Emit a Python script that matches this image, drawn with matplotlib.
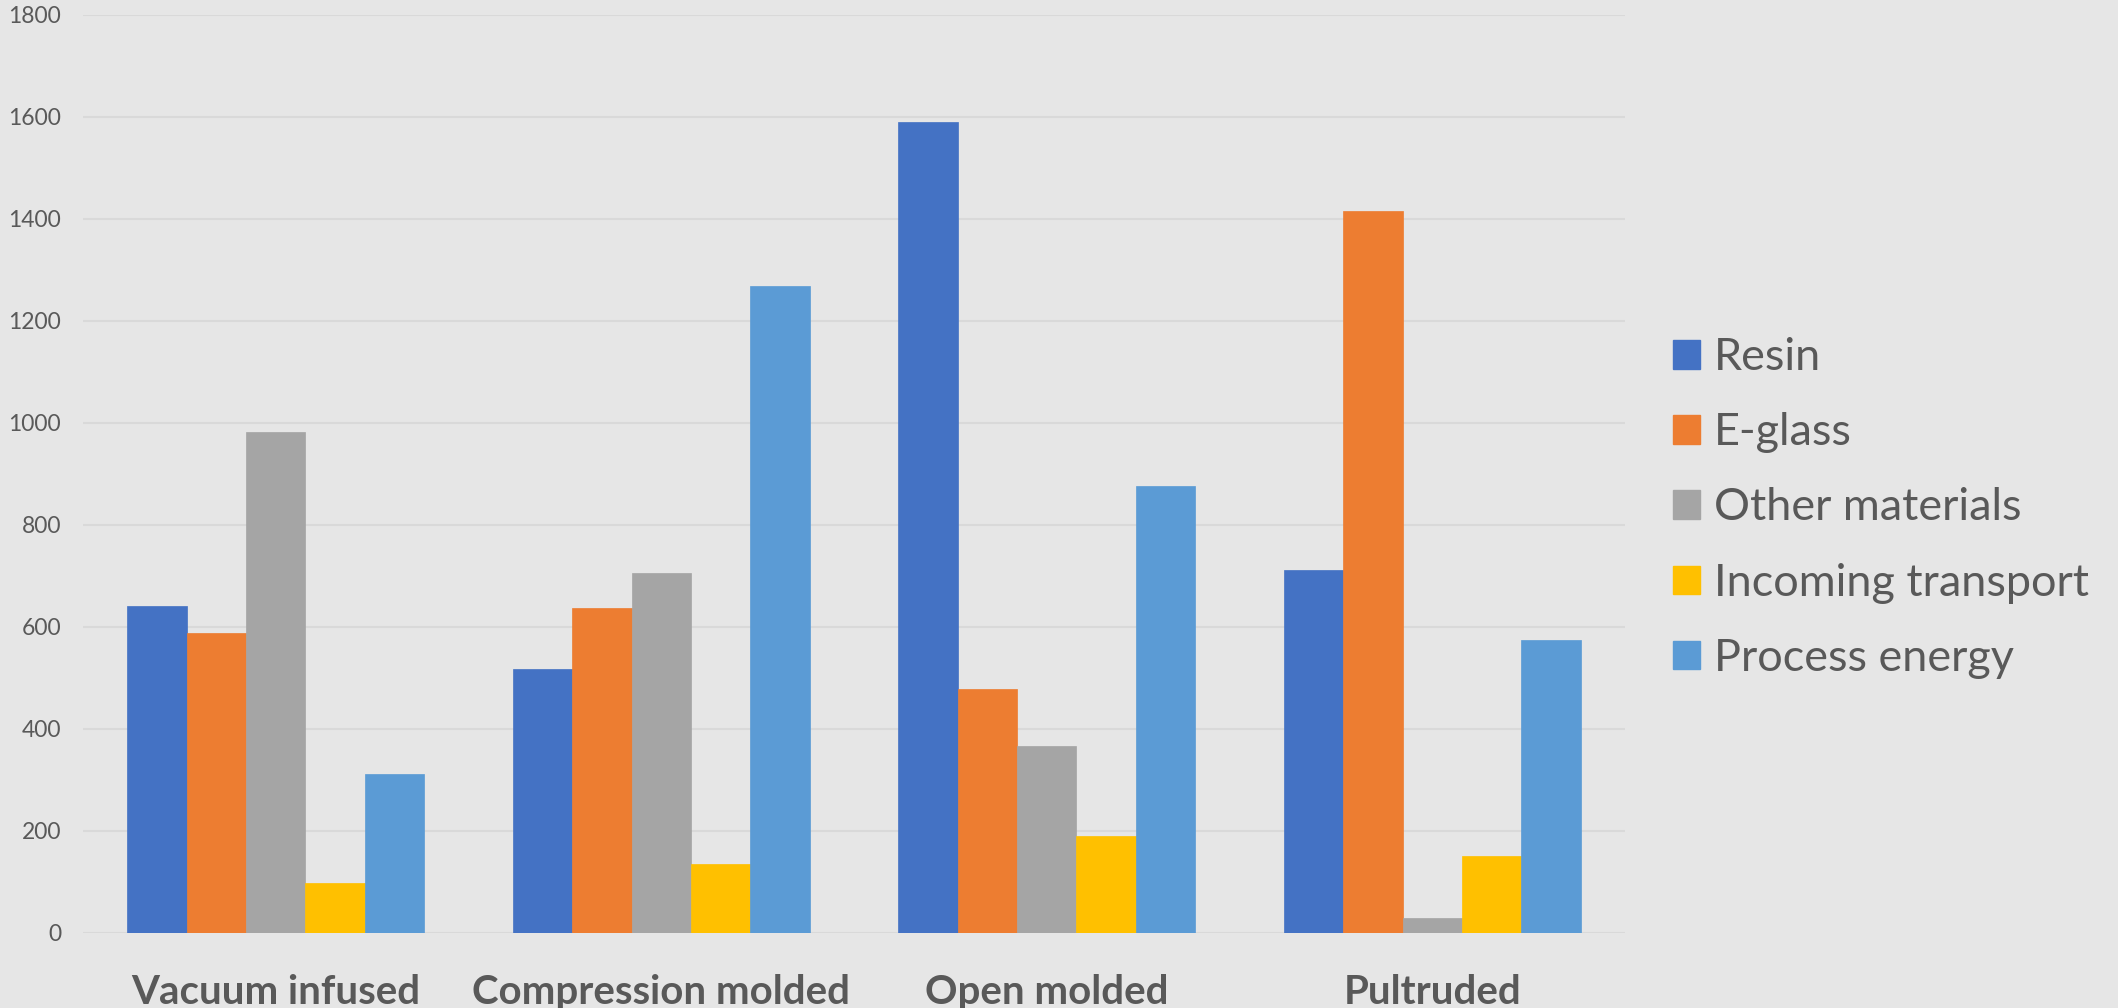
import matplotlib
matplotlib.use("Agg")
import matplotlib.pyplot as plt
from matplotlib.patches import Patch
import numpy as np

categories = ["Vacuum infused", "Compression molded", "Open molded", "Pultruded"]
series_names = ["Resin", "E-glass", "Other materials", "Incoming transport", "Process energy"]
resin = [640, 518, 1590, 711]
e_glass = [587, 637, 478, 1415]
other_materials = [982, 706, 367, 28]
incoming_transport = [98, 135, 190, 150]
process_energy = [311, 1269, 876, 573]
y_ticks = [0, 200, 400, 600, 800, 1000, 1200, 1400, 1600, 1800]

series_values = [resin, e_glass, other_materials, incoming_transport, process_energy]
colors = ["#4472C4", "#ED7D31", "#A5A5A5", "#FFC000", "#5B9BD5"]

BG = "#E6E6E6"
GRID = "#D9D9D9"
TXT = "#595959"
FONT = ["Lato", "DejaVu Sans"]

plt.rcParams["font.family"] = FONT

W, H = 2118, 1008
fig = plt.figure(figsize=(W / 100, H / 100), dpi=100, facecolor=BG)
left, right = 83 / W, 1625 / W
top_px, bot_px = 14.7, 932.7
ax = fig.add_axes([left, 1 - bot_px / H, right - left, (bot_px - top_px) / H])
ax.set_facecolor(BG)

n = len(series_names)
bw = 1 / 6.5
x = np.arange(len(categories))
for i, (vals, c) in enumerate(zip(series_values, colors)):
    offs = (i - (n - 1) / 2) * bw
    ax.bar(x + offs, vals, width=bw, color=c, edgecolor=c, linewidth=0.5, zorder=3)

ax.set_xlim(-0.5, len(categories) - 0.5)
ax.set_ylim(0, 1800)
ax.set_yticks(y_ticks)
ax.set_yticklabels([str(t) for t in y_ticks])
ax.yaxis.grid(True, color=GRID, linewidth=1.5, zorder=0)
ax.set_axisbelow(True)
for s in ax.spines.values():
    s.set_visible(False)
ax.tick_params(axis="y", length=0, pad=15.8, labelsize=16.5, labelcolor=TXT)
ax.tick_params(axis="x", length=0, pad=29.5, labelsize=29, labelcolor=TXT)
ax.set_xticks(x)
ax.set_xticklabels(categories, fontweight="bold")

handles = [Patch(facecolor=c, edgecolor=c) for c in colors]
fig.legend(handles, series_names, loc="center left",
           bbox_to_anchor=(1673 / W, 1 - 508 / H), bbox_transform=fig.transFigure,
           frameon=False, fontsize=32.4, labelcolor=TXT,
           handlelength=0.6, handleheight=0.6, handletextpad=0.31,
           labelspacing=0.76, borderpad=0, borderaxespad=0)

fig.savefig("out.png", dpi=100, facecolor=BG)
